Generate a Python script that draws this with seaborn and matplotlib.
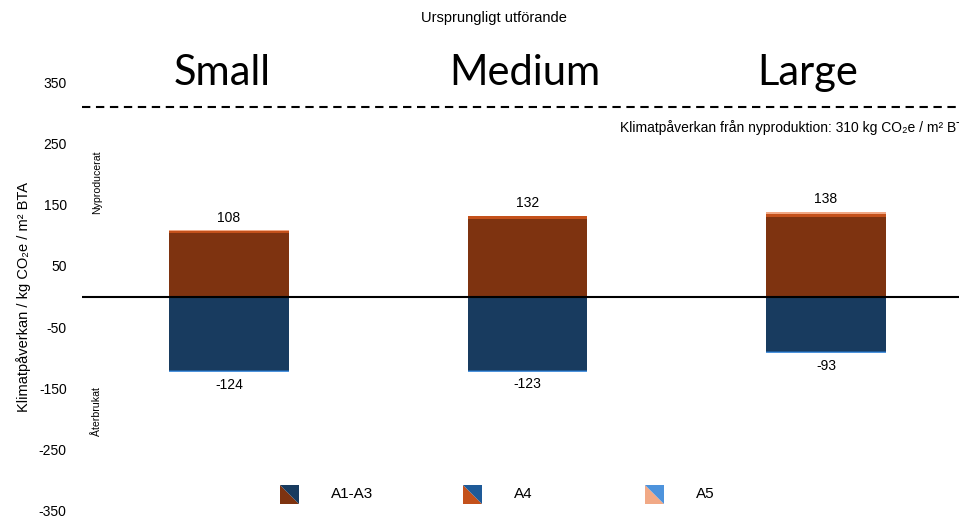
import matplotlib
matplotlib.use("Agg")
import matplotlib.pyplot as plt
import seaborn as sns
from matplotlib.patches import Polygon

# Building sizes and climate impact per life-cycle module (kg CO2e / m² BTA)
categories = ["Small", "Medium", "Large"]
components = ["A1-A3", "A4", "A5"]
new_a1a3 = [104, 126, 129]
new_a4 = [3, 5, 6]
new_a5 = [1, 1, 3]
reuse_a1a3 = [-120, -120, -89]
reuse_a4 = [-2, -2, -2]
reuse_a5 = [-2, -1, -2]
new_production = 310
y_ticks = [-350, -250, -150, -50, 50, 150, 250, 350]

pos_colors = ["#7E3310", "#C4511B", "#F1A986"]
neg_colors = ["#183B5F", "#1E5A98", "#4D93DC"]

sns.set_style("white")
plt.rcParams["font.family"] = ["Liberation Sans", "DejaVu Sans"]
plt.rcParams["axes.unicode_minus"] = False
plt.rcParams["text.color"] = "black"
plt.rcParams["axes.labelcolor"] = "black"
plt.rcParams["ytick.color"] = "black"

W, H = 959, 517
fig = plt.figure(figsize=(W / 100, H / 100), dpi=100)
ax = fig.add_axes([82 / W, 6 / H, 877 / W, 429 / H])

def stacked(parts, colors):
    # layer cumulative sums from the outermost segment inwards
    for k in range(len(parts), 0, -1):
        cum = [sum(p[i] for p in parts[:k]) for i in range(len(categories))]
        sns.barplot(x=categories, y=cum, order=categories, color=colors[k - 1],
                    width=0.4, saturation=1, linewidth=0, errorbar=None, ax=ax)

stacked([new_a1a3, new_a4, new_a5], pos_colors)
stacked([reuse_a1a3, reuse_a4, reuse_a5], neg_colors)

pos_tot = [a + b + c for a, b, c in zip(new_a1a3, new_a4, new_a5)]
neg_tot = [a + b + c for a, b, c in zip(reuse_a1a3, reuse_a4, reuse_a5)]

# header positions of the size names (data x)
header_x = [-0.024, 0.99, 1.94]

for i, (p, n) in enumerate(zip(pos_tot, neg_tot)):
    ax.annotate(f"{p}", (i, p), xytext=(0, 4), textcoords="offset points",
                ha="center", va="bottom", fontsize=10)
    ax.annotate(f"{n}", (i, n), xytext=(0, -4), textcoords="offset points",
                ha="center", va="top", fontsize=10)
    ax.text(header_x[i], 345, categories[i], ha="center", va="baseline",
            fontsize=30, family="Lato", color="black")

ax.axhline(0, color="black", lw=1.5)
ax.axhline(new_production, color="black", lw=1.5, ls=(0, (4, 2.7)))
ax.text(1.31, 276, f"Klimatpåverkan från nyproduktion: {new_production} kg CO₂e / m² BTA",
        ha="left", va="center", fontsize=10, clip_on=False)

ax.set_xlim(-0.4925, 2.4456)
ax.set_ylim(-350, 350)
ax.set_xticks([])
ax.set_xlabel("")
ax.set_yticks(y_ticks)
ax.tick_params(axis="y", length=0, pad=11, labelsize=10, labelcolor="black")
sns.despine(ax=ax, left=True, bottom=True)

ax.set_ylabel("Klimatpåverkan / kg CO₂e / m² BTA", fontsize=10.5)
ax.yaxis.set_label_coords(-0.058, 0.5)
ax.text(-0.442, 187, "Nyproducerat", rotation=90, ha="center", va="center", fontsize=7.6)
ax.text(-0.442, -187, "Återbrukat", rotation=90, ha="center", va="center", fontsize=7.6)

fig.text(494 / W, 1 - 18 / H, "Ursprungligt utförande", ha="center", va="center", fontsize=10.5)

# legend: squares split diagonally into the new (lower-left) and reused (upper-right) colour
for i, label in enumerate(components):
    x0 = (280 + 182.5 * i) / W
    x1 = x0 + 19 / W
    y0 = (H - 504) / H
    y1 = (H - 485) / H
    fig.patches.append(Polygon([(x0, y1), (x0, y0), (x1, y0)], closed=True,
                               transform=fig.transFigure, color=pos_colors[i], lw=0))
    fig.patches.append(Polygon([(x0, y1), (x1, y1), (x1, y0)], closed=True,
                               transform=fig.transFigure, color=neg_colors[i], lw=0))
    fig.text(x0 + 51 / W, (H - 494) / H, label, ha="left", va="center", fontsize=11)

fig.savefig("out.png", dpi=100)
